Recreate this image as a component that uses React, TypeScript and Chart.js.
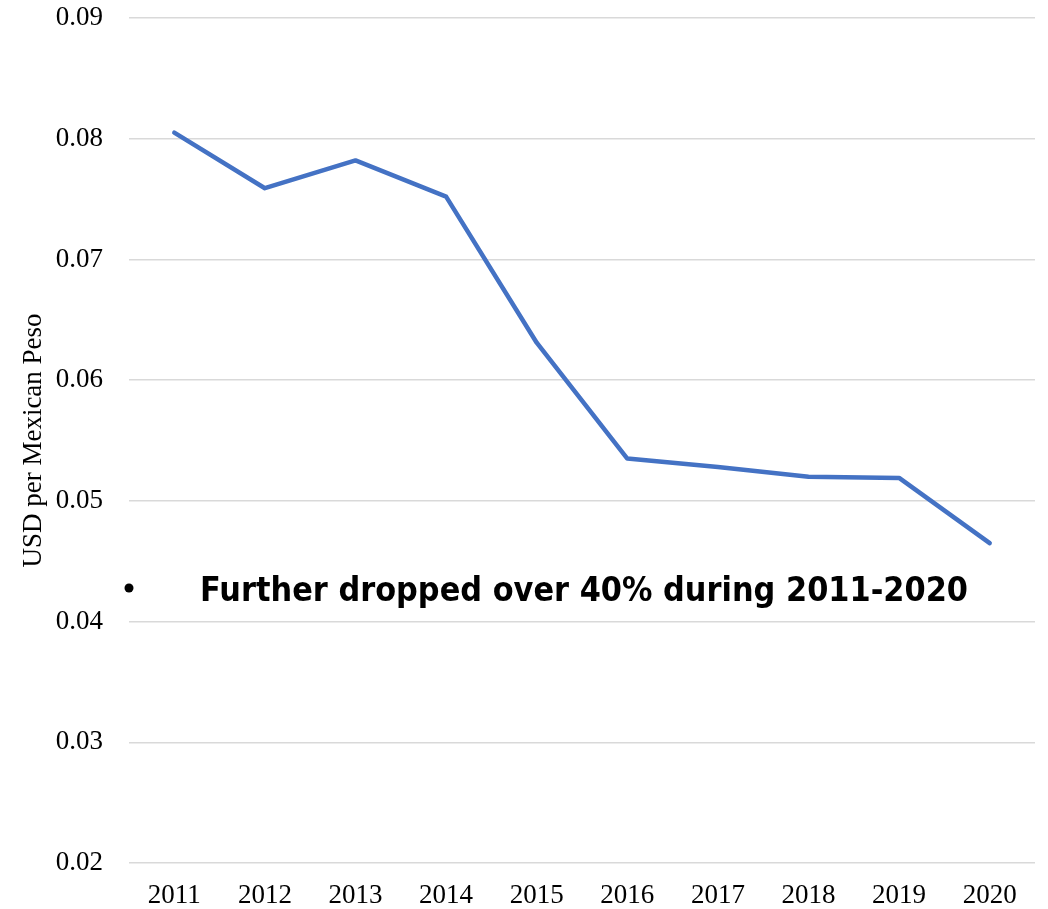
import React, { useEffect, useRef } from "react";
import { Chart, registerables } from "chart.js";

Chart.register(...registerables);

const years = ["2011", "2012", "2013", "2014", "2015", "2016", "2017", "2018", "2019", "2020"];
const usdPerPeso = [0.0805, 0.0759, 0.0782, 0.0752, 0.0631, 0.0535, 0.0528, 0.0520, 0.0519, 0.0465];
const yTicks = [0.02, 0.03, 0.04, 0.05, 0.06, 0.07, 0.08, 0.09];
const axisTitle = "USD per Mexican Peso";
const noteText = "Further dropped over 40% during 2011-2020";

const notePlugin = {
  id: "notePlugin",
  afterDraw(chart: any) {
    const ctx = chart.ctx;
    ctx.save();
    ctx.fillStyle = "#000";
    ctx.beginPath();
    ctx.arc(129, 588, 4.5, 0, Math.PI * 2);
    ctx.fill();
    ctx.font = "bold 34px 'DejaVu Sans'";
    ctx.textBaseline = "alphabetic";
    ctx.textAlign = "left";
    ctx.fillText(noteText, 200, 601, 768);
    ctx.restore();
  },
};

export default function App() {
  const ref = useRef<HTMLCanvasElement | null>(null);
  useEffect(() => {
    if (!ref.current) return;
    const chart = new Chart(ref.current, {
      type: "line",
      data: {
        labels: years,
        datasets: [
          {
            data: usdPerPeso,
            borderColor: "#4472C4",
            borderWidth: 4.5,
            pointRadius: 0,
            tension: 0,
            borderCapStyle: "round",
            borderJoinStyle: "round",
          },
        ],
      },
      options: {
        responsive: false,
        animation: false,
        layout: { padding: { top: 18, right: 13, left: 0, bottom: 0 } },
        plugins: { legend: { display: false }, tooltip: { enabled: false } },
        scales: {
          x: {
            offset: true,
            grid: { display: false },
            border: { display: false },
            ticks: {
              color: "#000",
              font: { family: "'Liberation Serif'", size: 27 },
              padding: 9,
              maxRotation: 0,
            },
            afterFit(scale: any) {
              scale.height = 46;
            },
          },
          y: {
            min: 0.02,
            max: 0.09,
            afterBuildTicks(scale: any) {
              scale.ticks = yTicks.map((v) => ({ value: v }));
            },
            grid: { color: "#d9d9d9", lineWidth: 1.5, drawTicks: false },
            border: { display: false },
            ticks: {
              color: "#000",
              font: { family: "'Liberation Serif'", size: 27 },
              padding: 26,
              callback: (v: any) => Number(v).toFixed(2),
            },
            title: {
              display: true,
              text: axisTitle,
              color: "#000",
              font: { family: "'Liberation Serif'", size: 27 },
              padding: { top: 18, bottom: 0 },
            },
            afterFit(scale: any) {
              scale.width = 129;
              scale.paddingTop = 0;
              scale.paddingBottom = 0;
            },
          },
        },
      },
      plugins: [notePlugin],
    });
    return () => chart.destroy();
  }, []);
  return (
    <div style={{ position: "fixed", left: 0, top: 0, width: 1048, height: 909, background: "#fff" }}>
      <canvas ref={ref} width={1048} height={909} />
    </div>
  );
}
